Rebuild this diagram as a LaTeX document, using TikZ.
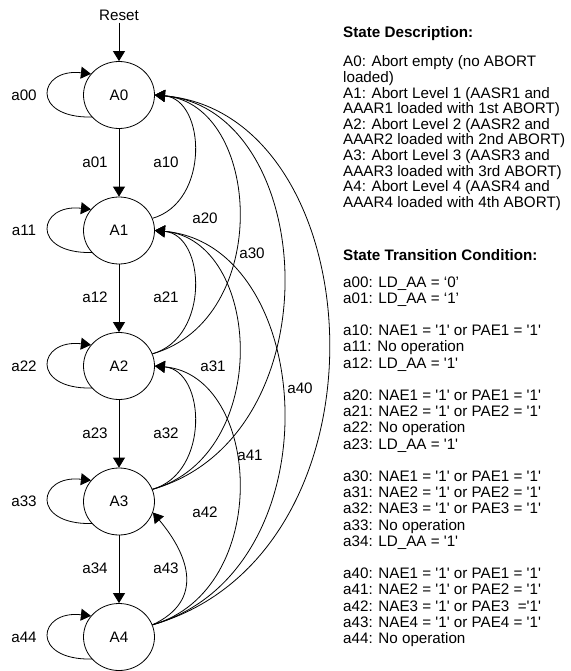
\documentclass[tikz,border=0pt]{standalone}
\usepackage{fontspec}
\newfontfamily\lsans{Liberation Sans}
\usetikzlibrary{arrows.meta,shapes.geometric}
\tikzset{
  stateNode/.style={draw, ellipse, line width=0.8pt, minimum width=71pt,
                    minimum height=67pt, inner sep=0pt,
                    font=\lsans\fontsize{15.2}{18}\selectfont},
  lbl/.style={font=\lsans\fontsize{15.2}{18}\selectfont, inner sep=2pt},
  arr/.style={-{Triangle[length=10pt, width=12pt]}, line width=0.8pt},
  backEdge/.style={out=16, in=-5, out looseness=1.24, in looseness=1.06},
  descLine/.style={font=\lsans\fontsize{15.2}{18}\selectfont, anchor=base west,
                   inner sep=0pt},
  descHead/.style={descLine, font=\lsans\bfseries\fontsize{15.2}{18}\selectfont},
}

\begin{document}
\begin{tikzpicture}[x=1pt, y=1pt]
\useasboundingbox (0,0) rectangle (570,-671);

% ========== STATES ==========
\foreach \i/\y in {0/95, 1/230.5, 2/366, 3/501.5, 4/637}
  \node[stateNode] (A\i) at (119,-\y) {A\i};

\node[lbl] (reset) at (119,-15) {Reset};
\draw[arr] (reset) -- (A0);

% forward chain
\foreach \i/\j in {0/1, 1/2, 2/3, 3/4}
  \draw[arr] (A\i) -- (A\j);

% self loops
\foreach \i in {0,...,4} {
  \draw[arr] (A\i.219) .. controls +(-62,-1) and +(-53,6) .. (A\i.143);
  \node[lbl] (a\i\i) at ([xshift=-95pt]A\i.center) {a\i\i};
}

% return edges
\foreach \s/\t in {1/0, 2/0, 3/0, 4/0, 2/1, 3/1, 4/1, 3/2, 4/2}
  \draw[arr] (A\s.20) to[backEdge] (A\t.east);
\draw[arr] (A4.20) to[out=25, in=-50, looseness=1.3] (A3.-18);

% transition labels
\foreach \i/\j/\y in {0/1/162, 1/2/297, 2/3/433, 3/4/568} {
  \node[lbl] (a\i\j) at (95,-\y) {a\i\j};
  \node[lbl] (a\j\i) at (166,-\y) {a\j\i};
}
\node[lbl] (a20) at (205,-218) {a20};
\node[lbl] (a30) at (252,-253) {a30};
\node[lbl] (a40) at (300,-388) {a40};
\node[lbl] (a31) at (213,-366) {a31};
\node[lbl] (a41) at (250,-455) {a41};
\node[lbl] (a42) at (205,-512) {a42};

% ========== DESCRIPTION ==========
\node[descHead] (descTitle) at (343,-38) {State Description:};
\foreach \txt [count=\k from 0] in {
    A0: Abort empty (no ABORT, loaded),
    A1: Abort Level 1 (AASR1 and, AAAR1 loaded with 1st ABORT),
    A2: Abort Level 2 (AASR2 and, AAAR2 loaded with 2nd ABORT),
    A3: Abort Level 3 (AASR3 and, AAAR3 loaded with 3rd ABORT),
    A4: Abort Level 4 (AASR4 and, AAAR4 loaded with 4th ABORT)}
  \node[descLine] (desc\k) at (343,-67-\k*15.6) {\txt};

\node[descHead] (condTitle) at (343,-260) {State Transition Condition:};
\foreach \k/\txt in {
    0/{a00: LD\_AA = ‘0’},
    1/{a01: LD\_AA = ‘1’},
    3/{a10: NAE1 = '1' or PAE1 = '1'},
    4/{a11: No operation},
    5/{a12: LD\_AA = '1'},
    7/{a20: NAE1 = '1' or PAE1 = '1'},
    8/{a21: NAE2 = '1' or PAE2 = '1'},
    9/{a22: No operation},
    10/{a23: LD\_AA = '1'},
    12/{a30: NAE1 = '1' or PAE1 = '1'},
    13/{a31: NAE2 = '1' or PAE2 = '1'},
    14/{a32: NAE3 = '1' or PAE3 = '1'},
    15/{a33: No operation},
    16/{a34: LD\_AA = '1'},
    18/{a40: NAE1 = '1' or PAE1 = '1'},
    19/{a41: NAE2 = '1' or PAE2 = '1'},
    20/{a42: NAE3 = '1' or PAE3~~='1'},
    21/{a43: NAE4 = '1' or PAE4 = '1'},
    22/{a44: No operation}}
  \node[descLine] (cond\k) at (343,-287-\k*16.2) {\txt};

\end{tikzpicture}
\end{document}
